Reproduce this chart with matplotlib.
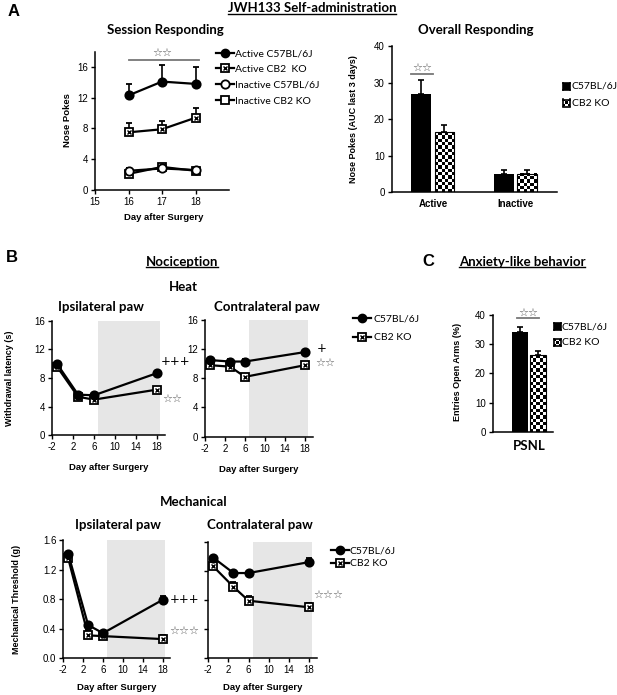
import numpy as np
import matplotlib.pyplot as plt
from matplotlib.lines import Line2D
from matplotlib.legend_handler import HandlerTuple

plt.rcParams['font.family'] = ['Liberation Sans', 'DejaVu Sans']
plt.rcParams['axes.unicode_minus'] = False
plt.rcParams['axes.linewidth'] = 1.1

# ---------------- data ----------------
# A: session responding (nose pokes per session)
sa_days = [16, 17, 18]
act_wt = [12.3, 14.1, 13.8]
act_wt_err = [1.5, 2.1, 2.2]
act_ko = [7.5, 7.9, 9.4]
act_ko_err = [1.2, 1.1, 1.3]
inact_wt = [2.5, 2.8, 2.6]
inact_wt_err = [0.4, 0.3, 0.3]
inact_ko = [2.1, 3.0, 2.5]
inact_ko_err = [0.7, 0.2, 0.3]

# A: overall responding (AUC last 3 days)
levers = ['Active', 'Inactive']
auc_wt = [27.0, 5.0]
auc_wt_err = [3.8, 1.2]
auc_ko = [16.4, 5.0]
auc_ko_err = [2.0, 1.0]

# B: nociception
test_days = [-1, 3, 6, 18]
heat_ipsi_wt = [10.0, 5.7, 5.6, 8.7]
heat_ipsi_ko = [9.6, 5.4, 5.0, 6.4]
heat_contra_wt = [10.5, 10.3, 10.3, 11.6]
heat_contra_ko = [9.8, 9.6, 8.2, 9.8]
mech_ipsi_wt = [1.41, 0.45, 0.34, 0.79]
mech_ipsi_ko = [1.35, 0.31, 0.30, 0.26]
mech_contra_wt = [1.38, 1.17, 1.17, 1.32]
mech_contra_ko = [1.26, 0.98, 0.79, 0.70]
heat_err = [0.3, 0.3, 0.3, 0.3]
mech_wt_err = [0.03, 0.03, 0.03, 0.05]
mech_ko_err = [0.03, 0.07, 0.07, 0.06]

# C: anxiety-like behaviour
psnl_group = ['PSNL']
open_arms_wt = [34.3]
open_arms_wt_err = [1.5]
open_arms_ko = [26.2]
open_arms_ko_err = [1.5]

W, H = 617, 695
fig = plt.figure(figsize=(W / 100, H / 100), dpi=100)

TITLE = ['Lato', 'DejaVu Sans']
STAR = ['DejaVu Sans']
STAR_COL = '#5a5a5a'
STAR_SIZE = 8


def px_axes(l, t, r, b):
    return fig.add_axes([l / W, 1 - b / H, (r - l) / W, (b - t) / H])


def ftext(x, y, s, **kw):
    return fig.text(x / W, 1 - y / H, s, **kw)


def style(ax, labelsize=7):
    ax.spines['top'].set_visible(False)
    ax.spines['right'].set_visible(False)
    ax.tick_params(direction='out', length=3, width=1, labelsize=labelsize, pad=2)


def up_err(err):
    return [np.zeros(len(err)), err]


def wt_line(ax, x, y, err, filled=True, ms=6):
    ax.errorbar(x, y, yerr=up_err(err), color='black', lw=1.6, marker='o', ms=ms,
                mfc='black' if filled else 'white', mec='black', mew=1.3,
                capsize=2.5, elinewidth=1.2, capthick=1.2, zorder=4, clip_on=False)


def ko_line(ax, x, y, err, cross=True, ms=6):
    ax.errorbar(x, y, yerr=up_err(err), color='black', lw=1.6, marker='s', ms=ms,
                mfc='white', mec='black', mew=1.3,
                capsize=2.5, elinewidth=1.2, capthick=1.2, zorder=3, clip_on=False)
    if cross:
        ax.plot(x, y, ls='none', marker='x', ms=ms * 0.45, mew=1.0, color='black', zorder=5,
                clip_on=False)


def checker(ax, bars, cell=3.3):
    for bar in bars:
        x0, y0 = bar.get_x(), bar.get_y()
        x1, y1 = x0 + bar.get_width(), y0 + bar.get_height()
        (p0x, p0y), (p1x, p1y) = ax.transData.transform([(x0, y0), (x1, y1)])
        nx = max(1, int(round((p1x - p0x) / cell)))
        ny = max(1, int(round((p1y - p0y) / cell)))
        board = np.indices((ny, nx)).sum(axis=0) % 2
        ax.imshow(board, cmap='gray', vmin=0, vmax=1, extent=(x0, x1, y0, y1),
                  aspect='auto', interpolation='nearest', origin='lower', zorder=2)


def swatch(x, y, checked, size=7):
    sa = px_axes(x, y - size / 2, x + size, y + size / 2)
    if checked:
        sa.imshow(np.indices((3, 3)).sum(axis=0) % 2, cmap='gray', vmin=0, vmax=1,
                  interpolation='nearest', aspect='auto')
    else:
        sa.set_facecolor('black')
    sa.set_xticks([])
    sa.set_yticks([])
    for s in sa.spines.values():
        s.set_linewidth(1.2)


underlined = []

# ---------------- headers ----------------
ftext(14, 11, 'A', fontsize=12, fontweight='bold', ha='center', va='center')
underlined.append(ftext(312, 8, 'JWH133 Self-administration', family=TITLE, fontsize=9.5,
                        fontweight='bold', ha='center', va='center'))
ftext(165, 30, 'Session Responding', family=TITLE, fontsize=9.5, fontweight='bold',
      ha='center', va='center')
ftext(476, 30, 'Overall Responding', family=TITLE, fontsize=9.5, fontweight='bold',
      ha='center', va='center')

# ---------------- A: session ----------------
ax = px_axes(95, 51.6, 229, 190)
style(ax)
wt_line(ax, sa_days, act_wt, act_wt_err, filled=True)
ko_line(ax, sa_days, act_ko, act_ko_err, cross=True)
wt_line(ax, sa_days, inact_wt, inact_wt_err, filled=False)
ko_line(ax, sa_days, inact_ko, inact_ko_err, cross=False)
ax.set_xlim(15, 19)
ax.set_ylim(0, 18)
ax.set_xticks([15, 16, 17, 18])
ax.set_yticks(range(0, 17, 4))
ax.plot([16, 18.1], [16.95, 16.95], color='#777777', lw=1.3, clip_on=False)
ax.text(17, 17.2, '☆☆', family=STAR, fontsize=STAR_SIZE, color=STAR_COL, ha='center',
        va='bottom')
ftext(67, 120, 'Nose Pokes', fontsize=6.8, fontweight='bold', rotation=90, ha='center', va='center')
ftext(164, 218, 'Day after Surgery', fontsize=6.8, fontweight='bold', ha='center', va='center')

h_wt = Line2D([], [], color='black', lw=1.6, marker='o', ms=6, mfc='black', mec='black')
h_ko = (Line2D([], [], color='black', lw=1.6, marker='s', ms=6, mfc='white', mec='black', mew=1.3),
        Line2D([], [], ls='none', marker='x', ms=2.7, mew=1.0, color='black'))
h_iwt = Line2D([], [], color='black', lw=1.6, marker='o', ms=6, mfc='white', mec='black', mew=1.3)
h_iko = Line2D([], [], color='black', lw=1.6, marker='s', ms=6, mfc='white', mec='black', mew=1.3)
fig.legend([h_wt, h_ko, h_iwt, h_iko],
           ['Active C57BL/6J', 'Active CB2  KO', 'Inactive C57BL/6J', 'Inactive CB2 KO'],
           loc='upper left', bbox_to_anchor=(216 / W, 1 - 49 / H), frameon=False,
           handlelength=1.7, handletextpad=0.1, labelspacing=0.62, borderpad=0, borderaxespad=0,
           prop={'family': TITLE, 'size': 7.5}, handler_map={tuple: HandlerTuple(ndivide=1)})

# ---------------- A: overall ----------------
ax = px_axes(391.7, 46, 556.7, 192.3)
style(ax)
xg = np.arange(len(levers))
ax.set_xlim(-0.5, 1.5)
ax.set_ylim(0, 40)
ax.bar(xg - 0.14, auc_wt, 0.24, color='black', zorder=3)
ax.errorbar(xg - 0.14, auc_wt, yerr=up_err(auc_wt_err), ls='none', color='black',
            capsize=2.5, elinewidth=1.2, capthick=1.2, zorder=4)
bars_ko = ax.bar(xg + 0.14, auc_ko, 0.24, color='white', zorder=1)
checker(ax, bars_ko)
ax.bar(xg + 0.14, auc_ko, 0.24, fill=False, edgecolor='black', lw=0.8, zorder=3)
ax.errorbar(xg + 0.14, auc_ko, yerr=up_err(auc_ko_err), ls='none', color='black',
            capsize=2.5, elinewidth=1.2, capthick=1.2, zorder=4)
ax.set_xlim(-0.5, 1.5)
ax.set_ylim(0, 40)
ax.set_yticks(range(0, 41, 10))
ax.set_xticks(xg)
ax.set_xticklabels(levers, fontsize=7, fontweight='bold')
ax.tick_params(axis='x', length=0, pad=5)
ax.plot([-0.27, 0.0], [32.3, 32.3], color='#777777', lw=1.3)
ax.text(-0.135, 32.6, '☆☆', family=STAR, fontsize=STAR_SIZE, color=STAR_COL, ha='center',
        va='bottom')
ftext(353, 119, 'Nose Pokes (AUC last 3 days)', fontsize=6.5, fontweight='bold', rotation=90,
      ha='center', va='center')
swatch(563, 86, False)
swatch(563, 103, True)
ftext(571.5, 86, 'C57BL/6J', family=TITLE, fontsize=7.5, ha='left', va='center')
ftext(571.5, 103, 'CB2 KO', family=TITLE, fontsize=7.5, ha='left', va='center')

# ---------------- B ----------------
ftext(12, 257, 'B', fontsize=12, fontweight='bold', ha='center', va='center')
underlined.append(ftext(182, 262, 'Nociception', family=TITLE, fontsize=9.5, fontweight='bold',
                        ha='center', va='center'))
ftext(183, 287, 'Heat', family=TITLE, fontsize=9.5, fontweight='bold', ha='center', va='center')
ftext(194, 502, 'Mechanical', family=TITLE, fontsize=9.5, fontweight='bold', ha='center', va='center')


def noci_panel(box, wt, ko, wt_err, ko_err, ylim, ystep, title, title_xy, fmt, label_gap,
               ylabels=True):
    ax = px_axes(*box)
    style(ax)
    ax.axvspan(6.8, 18.5, color='#e6e6e6', lw=0, zorder=0)
    wt_line(ax, test_days, wt, wt_err, filled=True, ms=6)
    ko_line(ax, test_days, ko, ko_err, cross=True, ms=6)
    ax.set_xlim(-2, 19.5)
    ax.set_ylim(0, ylim)
    ax.set_xticks(range(-2, 19, 4))
    ticks = np.arange(0, ylim + ystep / 2, ystep)
    ax.set_yticks(ticks)
    if ylabels:
        ax.set_yticklabels([fmt.format(t) for t in ticks])
    else:
        ax.set_yticklabels([])
    ftext(title_xy[0], title_xy[1], title, family=TITLE, fontsize=9.5, fontweight='bold',
          ha='center', va='center')
    l, t, r, b = box
    ftext((l + r) / 2, b + label_gap, 'Day after Surgery', fontsize=6.8, fontweight='bold',
          ha='center', va='center')
    return ax


def mark(ax, x, y, s, dx, dy, star=False):
    if star:
        ax.annotate(s, (x, y), xytext=(dx, dy), textcoords='offset pixels', family=STAR,
                    fontsize=STAR_SIZE, color=STAR_COL, ha='left', va='center',
                    annotation_clip=False)
    else:
        ax.annotate(s, (x, y), xytext=(dx, dy), textcoords='offset pixels', family=STAR,
                    fontsize=8.5, color='black', ha='left', va='center', annotation_clip=False)


ax = noci_panel((51.7, 320.7, 165, 435.5), heat_ipsi_wt, heat_ipsi_ko, heat_err, heat_err,
                16, 4, 'Ipsilateral paw', (101, 307), '{:.0f}', 32.5)
mark(ax, test_days[-1], heat_ipsi_wt[-1], '+++', 4, 12)
mark(ax, test_days[-1], heat_ipsi_ko[-1], '☆☆', 5, -9, star=True)

ax = noci_panel((205, 320, 312.5, 436.6), heat_contra_wt, heat_contra_ko, heat_err, heat_err,
                16, 4, 'Contralateral paw', (267, 307), '{:.0f}', 32.5)
mark(ax, test_days[-1], heat_contra_wt[-1], '+', 12, 4)
mark(ax, test_days[-1], heat_contra_ko[-1], '☆☆', 10, 2, star=True)
ftext(10, 378, 'Withdrawal latency (s)', fontsize=6.5, fontweight='bold', rotation=90,
      ha='center', va='center')

ax = noci_panel((63.3, 540, 170, 658.3), mech_ipsi_wt, mech_ipsi_ko, mech_wt_err, mech_ko_err,
                1.6, 0.4, 'Ipsilateral paw', (118, 525), '{:.1f}', 29.5)
mark(ax, test_days[-1], mech_ipsi_wt[-1], '+++', 7, 0)
mark(ax, test_days[-1], mech_ipsi_ko[-1], '☆☆☆', 7, 8, star=True)

ax = noci_panel((208.3, 541.7, 316.6, 658.3), mech_contra_wt, mech_contra_ko, mech_wt_err,
                mech_ko_err, 1.6, 0.4, 'Contralateral paw', (260, 525), '{:.1f}', 29.5,
                ylabels=False)
mark(ax, test_days[-1], mech_contra_ko[-1], '☆☆☆', 4, 13, star=True)
ftext(17, 599, 'Mechanical Threshold (g)', fontsize=6.5, fontweight='bold', rotation=90,
      ha='center', va='center')

h_wt2 = Line2D([], [], color='black', lw=1.6, marker='o', ms=6, mfc='black', mec='black')
h_ko2 = (Line2D([], [], color='black', lw=1.6, marker='s', ms=6, mfc='white', mec='black', mew=1.3),
         Line2D([], [], ls='none', marker='x', ms=2.7, mew=1.0, color='black'))
fig.legend([h_wt2, h_ko2], ['C57BL/6J', 'CB2 KO'], loc='upper left',
           bbox_to_anchor=(353 / W, 1 - 314 / H), frameon=False, handlelength=1.7,
           handletextpad=0.3, labelspacing=0.95, borderpad=0, borderaxespad=0,
           prop={'family': TITLE, 'size': 7.5}, handler_map={tuple: HandlerTuple(ndivide=1)})
fig.legend([h_wt2, h_ko2], ['C57BL/6J', 'CB2 KO'], loc='upper left',
           bbox_to_anchor=(331 / W, 1 - 546 / H), frameon=False, handlelength=1.7,
           handletextpad=0.1, labelspacing=0.35, borderpad=0, borderaxespad=0,
           prop={'family': TITLE, 'size': 7.5}, handler_map={tuple: HandlerTuple(ndivide=1)})

# ---------------- C ----------------
ftext(428, 262, 'C', fontsize=12, fontweight='bold', ha='center', va='center')
underlined.append(ftext(522, 262, 'Anxiety-like behavior', family=TITLE, fontsize=9.5,
                        fontweight='bold', ha='center', va='center'))
ax = px_axes(492.7, 315, 553.3, 431.7)
style(ax)
xc = np.arange(len(psnl_group))
ax.set_xlim(-0.6, 0.4)
ax.set_ylim(0, 40)
ax.bar(xc - 0.15, open_arms_wt, 0.26, color='black', zorder=3)
ax.errorbar(xc - 0.15, open_arms_wt, yerr=up_err(open_arms_wt_err), ls='none', color='black',
            capsize=2.5, elinewidth=1.2, capthick=1.2, zorder=4)
bars_c = ax.bar(xc + 0.15, open_arms_ko, 0.26, color='white', zorder=1)
checker(ax, bars_c)
ax.bar(xc + 0.15, open_arms_ko, 0.26, fill=False, edgecolor='black', lw=0.8, zorder=3)
ax.errorbar(xc + 0.15, open_arms_ko, yerr=up_err(open_arms_ko_err), ls='none', color='black',
            capsize=2.5, elinewidth=1.2, capthick=1.2, zorder=4)
ax.set_xlim(-0.6, 0.4)
ax.set_ylim(0, 40)
ax.set_yticks(range(0, 41, 10))
ax.set_xticks(xc)
ax.set_xticklabels(psnl_group, family=TITLE, fontsize=9.5, fontweight='bold')
ax.tick_params(axis='x', length=0, pad=6)
ax.plot([-0.2, 0.17], [38.9, 38.9], color='#777777', lw=1.3, clip_on=False)
ax.text(-0.015, 39.2, '☆☆', family=STAR, fontsize=STAR_SIZE, color=STAR_COL, ha='center',
        va='bottom')
ftext(458, 372, 'Entries Open Arms (%)', fontsize=6.5, fontweight='bold', rotation=90,
      ha='center', va='center')
swatch(554, 326.5, False)
swatch(554, 342.5, True)
ftext(562, 326.5, 'C57BL/6J', family=TITLE, fontsize=7.5, ha='left', va='center')
ftext(562, 342.5, 'CB2 KO', family=TITLE, fontsize=7.5, ha='left', va='center')

# underline header texts
fig.canvas.draw()
inv = fig.transFigure.inverted()
for t in underlined:
    bb = t.get_window_extent()
    (x0, y0), (x1, _) = inv.transform([(bb.x0, bb.y0), (bb.x1, bb.y0)])
    fig.add_artist(Line2D([x0, x1], [y0 + 0.5 / H, y0 + 0.5 / H], color='black', lw=1.0,
                          transform=fig.transFigure))

fig.savefig('out.png', dpi=100)
